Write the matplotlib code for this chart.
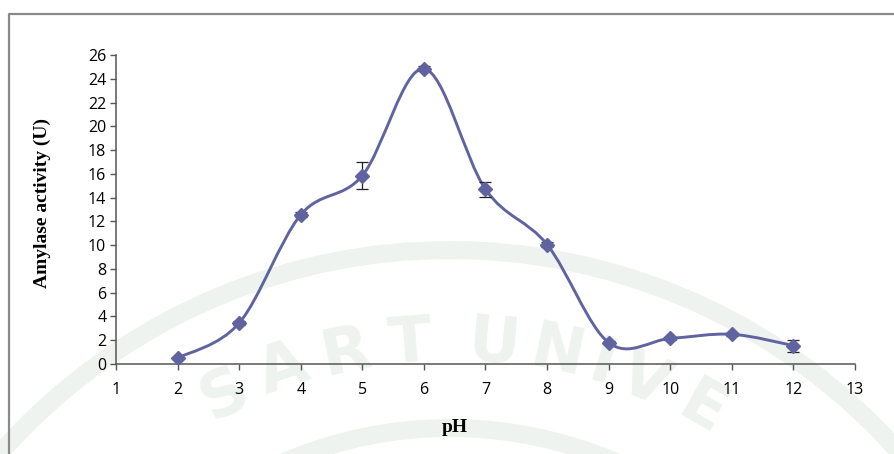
import numpy as np
import matplotlib
matplotlib.use("Agg")
import matplotlib.pyplot as plt
from matplotlib.patches import Arc, PathPatch
from matplotlib.path import Path

# pH profile of amylase activity
ph = [2, 3, 4, 5, 6, 7, 8, 9, 10, 11, 12]
activity = [0.5, 3.45, 12.55, 15.85, 24.85, 14.7, 10.05, 1.8, 2.15, 2.5, 1.55]
err = [0.1, 0.15, 0.2, 1.15, 0.2, 0.65, 0.2, 0.1, 0.15, 0.15, 0.5]

xticks = list(range(1, 14))
yticks = list(range(0, 27, 2))

line_color = "#6163a0"
wm_color = "#eff3ef"

W, H = 895, 454
fig = plt.figure(figsize=(W / 100, H / 100), dpi=100)

# faint university watermark behind the chart (pixel coords, y up)
bg = fig.add_axes([0, 0, 1, 1], zorder=0)
bg.set_xlim(0, W)
bg.set_ylim(0, H)
bg.axis("off")
cx, cy = 450, H - 850
for r, lw in [(600, 13), (422, 13)]:
    bg.add_patch(Arc((cx, cy), 2 * r, 2 * r, theta1=0, theta2=180,
                     color=wm_color, lw=lw))

word = "SART UNIVE"
widths = {" ": 2.1, "I": 3.0}
ang = 116.4 + 7.3   # angle of the first letter's left neighbour
prev_w = 7.3
for ch in word:
    w = widths.get(ch, 7.3)
    ang -= (prev_w + w) / 2
    prev_w = w
    if ch == " ":
        continue
    th = np.radians(ang)
    bg.text(cx + 508 * np.cos(th), cy + 508 * np.sin(th), ch,
            rotation=ang - 90, ha="center", va="center",
            fontsize=46, fontweight="bold", family="DejaVu Sans",
            color=wm_color)

# outer chart frame (only top and left edges fall inside the image)
bg.plot([9, 9, W + 5], [-5, H - 14, H - 14], color="#8a8a8a", lw=1.6)

# plot area
x0, x1 = 116, 855
y0, y1 = H - 364, H - 55
ax = fig.add_axes([x0 / W, y0 / H, (x1 - x0) / W, (y1 - y0) / H], zorder=1)
ax.patch.set_alpha(0)

# smoothed line through the points (cubic Bezier, Catmull-Rom style)
px = np.array(ph, dtype=float)
py = np.array(activity, dtype=float)
verts = [(px[0], py[0])]
codes = [Path.MOVETO]
n = len(px)
for i in range(n - 1):
    p0 = np.array([px[max(i - 1, 0)], py[max(i - 1, 0)]])
    p1 = np.array([px[i], py[i]])
    p2 = np.array([px[i + 1], py[i + 1]])
    p3 = np.array([px[min(i + 2, n - 1)], py[min(i + 2, n - 1)]])
    c1 = p1 + (p2 - p0) / 6
    c2 = p2 - (p3 - p1) / 6
    verts += [tuple(c1), tuple(c2), tuple(p2)]
    codes += [Path.CURVE4] * 3
ax.add_patch(PathPatch(Path(verts, codes), fill=False, edgecolor=line_color,
                       lw=2.1, zorder=2, capstyle="round", joinstyle="round"))

ax.errorbar(ph, activity, yerr=err, fmt="none", ecolor="#222222",
            elinewidth=0.9, capsize=4, capthick=0.9, zorder=3)
ax.plot(ph, activity, linestyle="none", marker="D", markersize=7,
        color=line_color, zorder=4)

ax.set_xlim(1, 13)
ax.set_ylim(0, 26)
ax.set_xticks(xticks)
ax.set_yticks(yticks)
for s in ["top", "right"]:
    ax.spines[s].set_visible(False)
for s in ["left", "bottom"]:
    ax.spines[s].set_color("#555555")
    ax.spines[s].set_linewidth(1.1)
ax.tick_params(direction="out", length=4, width=1.0, color="#555555",
               labelsize=11.5, labelcolor="black")
ax.tick_params(axis="x", pad=9)
ax.tick_params(axis="y", pad=3)
for lab in ax.get_xticklabels() + ax.get_yticklabels():
    lab.set_family("Open Sans")

fig.text(455 / W, 1 - 428 / H, "pH", ha="center", va="center",
         family="Liberation Serif", fontweight="bold", fontsize=14)
fig.text(42 / W, 1 - 203 / H, "Amylase activity (U)", ha="center",
         va="center", rotation=90, family="Liberation Serif",
         fontweight="bold", fontsize=14)

fig.savefig("out.png", dpi=100)
